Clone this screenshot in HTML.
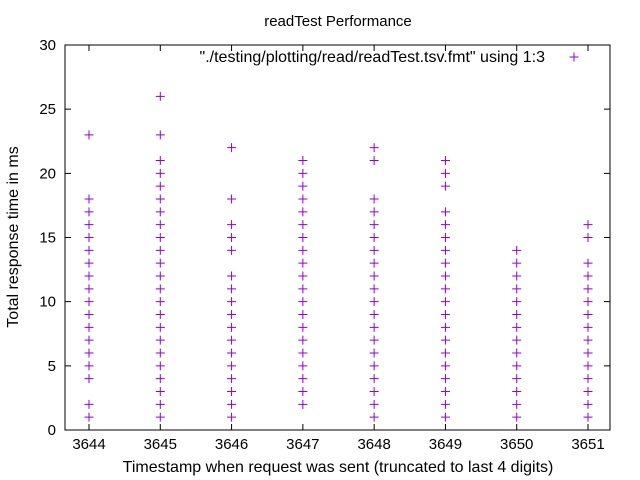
<!DOCTYPE html>
<html><head><meta charset="utf-8"><style>
body{margin:0;background:#fff}
svg{display:block;font-family:"Liberation Sans",sans-serif}
</style></head><body>
<svg id="chart" width="640" height="480">
<rect width="640" height="480" fill="#fff"/>
<text x="338" y="26" font-size="15" text-anchor="middle">readTest Performance</text>
<g id="axes"></g>
<g id="points"></g>
<text x="545" y="62" font-size="16" text-anchor="end">"./testing/plotting/read/readTest.tsv.fmt" using 1:3</text>
<text x="338" y="472" font-size="16" text-anchor="middle">Timestamp when request was sent (truncated to last 4 digits)</text>
<text transform="translate(18,237) rotate(-90)" font-size="16" text-anchor="middle">Total response time in ms</text>
</svg>
<script>
const xCats=[3644,3645,3646,3647,3648,3649,3650,3651];
const s3644=[23,18,17,16,15,14,13,12,11,10,9,8,7,6,5,4,2,1];
const s3645=[26,23,21,20,19,18,17,16,15,14,13,12,11,10,9,8,7,6,5,4,3,2,1];
const s3646=[22,18,16,15,14,12,11,10,9,8,7,6,5,4,3,2,1];
const s3647=[21,20,19,18,17,16,15,14,13,12,11,10,9,8,7,6,5,4,3,2];
const s3648=[22,21,18,17,16,15,14,13,12,11,10,9,8,7,6,5,4,3,2,1];
const s3649=[21,20,19,17,16,15,14,13,12,11,10,9,8,7,6,5,4,3,2,1];
const s3650=[14,13,12,11,10,9,8,7,6,5,4,3,2,1];
const s3651=[16,15,13,12,11,10,9,8,7,6,5,4,3,2,1];
const series=[s3644,s3645,s3646,s3647,s3648,s3649,s3650,s3651];
const yTicks=[0,5,10,15,20,25,30];
const NS="http://www.w3.org/2000/svg";
const L=65,R=610,T=45,B=430;
const X=v=>89+(v-3644)*(588-89)/7;
const Y=v=>B-(v/30)*(B-T);
const C="#9400d3";
const axes=document.getElementById('axes'),pts=document.getElementById('points');
function mk(tag,attrs,parent){const e=document.createElementNS(NS,tag);for(const k in attrs)e.setAttribute(k,attrs[k]);parent.appendChild(e);return e;}
const frame=mk('rect',{x:L,y:T,width:R-L,height:B-T,fill:'none',stroke:'#000','stroke-width':1},axes);


yTicks.forEach(v=>{
  const y=Y(v);
  const t=mk('path',{d:`M${L} ${y}h6M${R} ${y}h-6`,stroke:'#000'},axes);
  
  
  const lb=mk('text',{x:L-9,y:y+5,'font-size':15,'text-anchor':'end'},axes);
  lb.textContent=v;
  
  
});
xCats.forEach(v=>{
  const x=X(v);
  const t=mk('path',{d:`M${x} ${B}v-6M${x} ${T}v6`,stroke:'#000'},axes);
  
  
  const lb=mk('text',{x:x,y:B+19,'font-size':15,'text-anchor':'middle'},axes);
  lb.textContent=v;
  
  
});
function plus(x,y){
  const p=mk('path',{d:`M${x-4.5} ${y}h9M${x} ${y-4.5}v9`,stroke:C,'stroke-width':1},pts);
  return p;
}
series.forEach((vals,i)=>{
  vals.forEach(v=>{
    const p=plus(X(xCats[i]),Y(v));
    
    
  });
});
const lp=plus(574,57);


</script>
</body></html>
